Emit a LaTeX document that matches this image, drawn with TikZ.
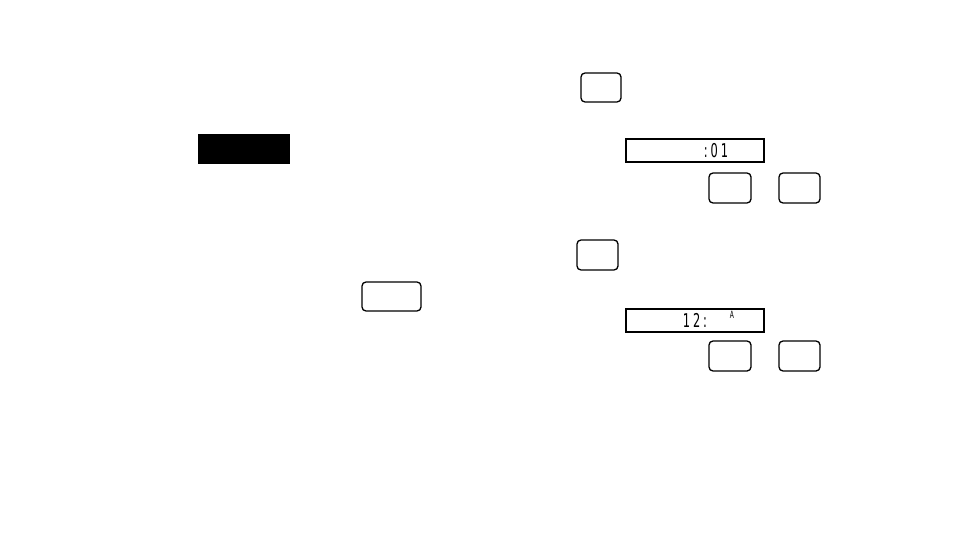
\documentclass[tikz,border=0pt]{standalone}
\usepackage{fontspec}
\setsansfont{DejaVu Sans}
\begin{document}
\begin{tikzpicture}[x=1pt,y=-1pt,
  btn/.style={draw,line width=1.3pt,rounded corners=4pt},
  disp/.style={draw,line width=1.6pt},
  seg/.style={font=\sffamily\fontsize{19}{19}\selectfont\addfontfeatures{LetterSpace=25},xscale=0.6,inner sep=0pt,anchor=center},
  segsmall/.style={font=\sffamily\fontsize{10}{10}\selectfont,xscale=0.6,inner sep=0pt,anchor=center}]
\useasboundingbox (0,0) rectangle (954,551);
\fill[white] (0,0) rectangle (954,551);
% black bar
\fill[black] (198,134) rectangle (290,164) node[pos=0.5,inner sep=0pt] (bar) {};
% buttons
\draw[btn] (581,73) rectangle (621,102) node[pos=0.5,inner sep=0pt] (b1) {};
\draw[btn] (709,173) rectangle (751,203) node[pos=0.5,inner sep=0pt] (b2) {};
\draw[btn] (779,173) rectangle (820,203) node[pos=0.5,inner sep=0pt] (b3) {};
\draw[btn] (577,240) rectangle (618,270) node[pos=0.5,inner sep=0pt] (b4) {};
\draw[btn] (362,282) rectangle (421,311) node[pos=0.5,inner sep=0pt] (b5) {};
\draw[btn] (709,341) rectangle (751,371) node[pos=0.5,inner sep=0pt] (b6) {};
\draw[btn] (779,341) rectangle (820,371) node[pos=0.5,inner sep=0pt] (b7) {};
% displays
\draw[disp] (626,139) rectangle (764,162) node[pos=0.5,inner sep=0pt] (d1) {};
\draw[disp] (626,309) rectangle (764,332) node[pos=0.5,inner sep=0pt] (d2) {};
\node[seg] (t1) at (716,151) {:01};
\node[seg] (t2) at (695,320) {12:};
\node[segsmall] (t3) at (732,315) {A};
\end{tikzpicture}
\end{document}
